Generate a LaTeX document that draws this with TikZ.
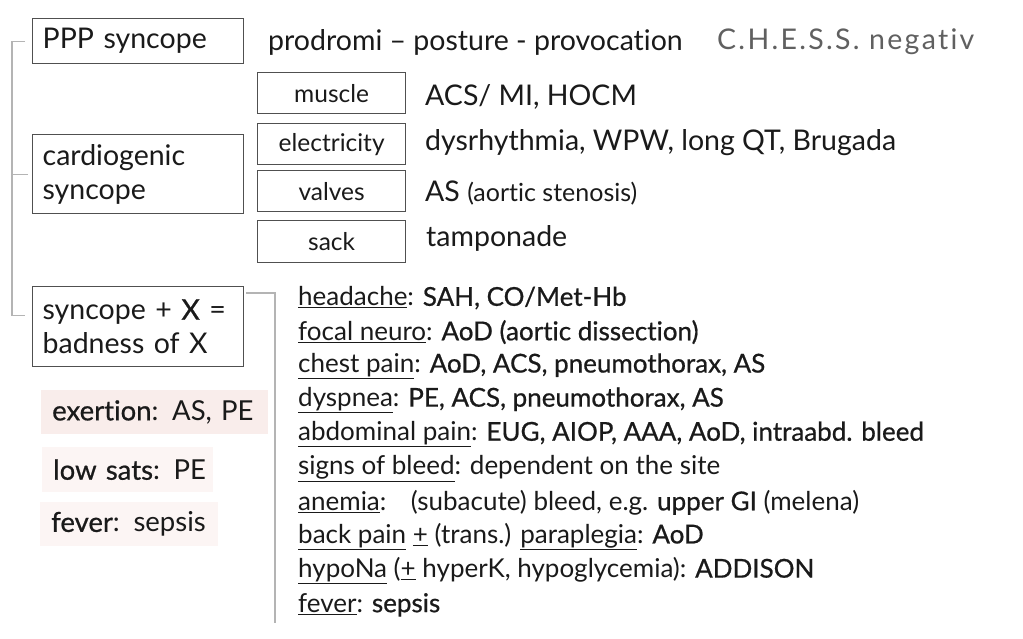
\documentclass[tikz,border=0pt]{standalone}
\usepackage{fontspec}
\setmainfont{Lato}[Ligatures=NoCommon]
\newfontfamily\med[FakeBold=0.7,Ligatures=NoCommon]{Lato}
\newfontfamily\spaced[LetterSpace=8,Ligatures=NoCommon]{Lato}
\definecolor{boxline}{HTML}{505050}
\definecolor{brk}{HTML}{B4B4B4}
\definecolor{pinkfill}{HTML}{F9EDEB}
\definecolor{pinklight}{HTML}{FCF5F4}
\definecolor{greytext}{HTML}{606060}
\definecolor{txt}{HTML}{1A1A1A}
\newcommand{\fbig}{\fontsize{28.5}{34}\selectfont}
\newcommand{\fsmall}{\fontsize{24.5}{28}\selectfont}
\newcommand{\fpar}{\fontsize{25}{30}\selectfont}
\newcommand{\flist}{\fontsize{26}{30}\selectfont}
\newcommand{\fpink}{\fontsize{27.5}{32}\selectfont}
\begin{document}
\begin{tikzpicture}[x=1pt,y=-1pt,
  bigbox/.style={draw=boxline, line width=1.3pt, anchor=north west, inner xsep=10pt, inner ysep=0pt,
     text width=191pt, align=left, font=\fbig, text=txt},
  smallbox/.style={draw=boxline, line width=1.3pt, anchor=north west, minimum width=148pt, inner sep=0pt,
     font=\fsmall, text=txt},
  pinkbox/.style={fill=pinklight, anchor=north west, inner xsep=11pt, inner ysep=0pt, align=left, font=\fpink, text=txt},
  rtext/.style={anchor=west, inner sep=0pt, font=\fbig, text=txt},
  ltext/.style={anchor=west, inner sep=0pt, font=\flist, text=txt},
  brk/.style={draw=brk, line width=1.1pt}
]
\useasboundingbox (0,0) rectangle (1023,639);

% left boxes
\node[bigbox, minimum height=45pt] (ppp) at (32,18) {PPP syncope};
\node[bigbox, minimum height=79pt] (cardio) at (32,134) {cardiogenic\\syncope};
\node[bigbox, minimum height=80pt] (sx) at (32,286) {syncope + {\med X} =\\badness of X};

% top line
\node[rtext] (ppptext) at (268,42) {prodromi -- posture - provocation};
\node[rtext, text=greytext] (chess) at (717,42) {\spaced C.H.E.S.S. negativ};

% small boxes
\node[smallbox, minimum height=41pt] (muscle) at (257,72) {muscle};
\node[smallbox, minimum height=41pt] (elec) at (257,123) {electricity};
\node[smallbox, minimum height=41pt] (valves) at (257,170) {valves};
\node[smallbox, minimum height=42pt] (sack) at (257,220) {sack};

\node[rtext] (tmuscle) at (425,97) {ACS/ MI, HOCM};
\node[rtext] (telec) at (425,143) {dysrhythmia, WPW, long QT, Brugada};
\node[rtext] (tvalves) at (425,193) {AS {\fpar (aortic stenosis)}};
\node[rtext] (tsack) at (426,238) {tamponade};

% pink boxes
\node[pinkbox, fill=pinkfill, minimum height=44pt, text width=205pt] (exer) at (41,390) {\mbox{{\med exertion}: AS, PE}};
\node[pinkbox, minimum height=45pt, text width=149pt] (lows) at (42,447) {\mbox{{\med low sats}: PE}};
\node[pinkbox, minimum height=44pt, text width=156pt] (fev) at (40,502) {\mbox{{\med fever}: sepsis}};

% list
\node[ltext] (l1) at (298,298.0) {\underline{headache}: {\med SAH, CO/Met-Hb}};
\node[ltext] (l2) at (298,332.1) {\underline{focal neuro}: {\med AoD (aortic dissection)}};
\node[ltext] (l3) at (298,366.2) {\underline{chest pain}: {\med AoD, ACS, pneumothorax, AS}};
\node[ltext] (l4) at (298,400.3) {\underline{dyspnea}: {\med PE, ACS, pneumothorax, AS}};
\node[ltext] (l5) at (298,434.4) {\underline{abdominal pain}: {\med EUG, AIOP, AAA, AoD, intraabd. bleed}};
\node[ltext] (l6) at (298,468.5) {\underline{signs of bleed}: dependent on the site};
\node[ltext] (l7) at (298,502.6) {\underline{anemia}:\hspace{0.6em} (subacute) bleed, e.g. {\med upper GI} (melena)};
\node[ltext] (l8) at (298,536.7) {\underline{back pain} \underline{+} (trans.) \underline{paraplegia}: {\med AoD}};
\node[ltext] (l9) at (298,570.8) {\underline{hypoNa} (\underline{+} hyperK, hypoglycemia): {\med ADDISON}};
\node[ltext] (l10) at (298,604.9) {\underline{fever}: {\med sepsis}};

% brackets
\coordinate (listend) at (275,623);
\draw[brk] ([xshift=-7pt]ppp.west) -- ++(-13,0) |- ([xshift=-7pt,yshift=11pt]sx.west);
\draw[brk] ([xshift=-4pt]cardio.west) -- ++(-16,0);
\draw[brk] ([xshift=2pt,yshift=-7pt]sx.north east) -| (listend);
\end{tikzpicture}
\end{document}
